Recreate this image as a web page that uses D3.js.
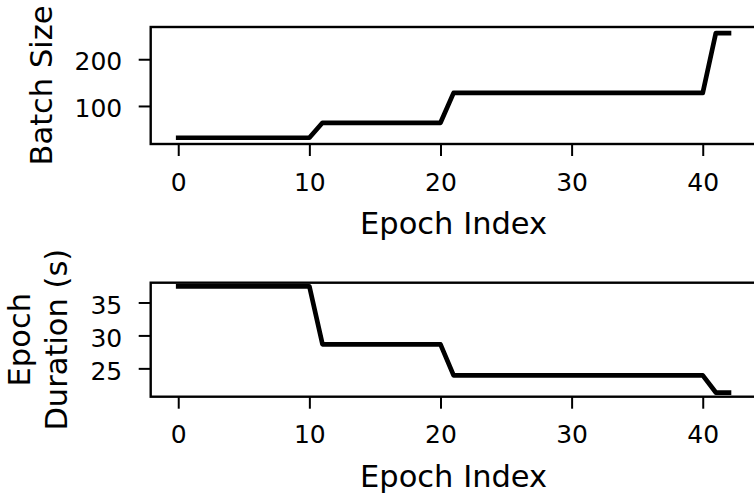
<!DOCTYPE html>
<html>
<head>
<meta charset="utf-8">
<script src="https://cdn.jsdelivr.net/npm/d3@7"></script>
<style>
  body { margin: 0; background: #fff; }
  text { font-family: "DejaVu Sans", sans-serif; fill: #000; }
</style>
</head>
<body>
<div id="chart"></div>
<script>
// data
var epochs = d3.range(0, 43);
var batchSize = [32,32,32,32,32,32,32,32,32,32,32,
                 64,64,64,64,64,64,64,64,64,64,
                 128,128,128,128,128,128,128,128,128,128,
                 128,128,128,128,128,128,128,128,128,128,
                 256,256];
var epochDuration = [37.45,37.45,37.45,37.45,37.45,37.45,37.45,37.45,37.45,37.45,37.45,
                     28.65,28.65,28.65,28.65,28.65,28.65,28.65,28.65,28.65,28.65,
                     23.94,23.94,23.94,23.94,23.94,23.94,23.94,23.94,23.94,23.94,
                     23.94,23.94,23.94,23.94,23.94,23.94,23.94,23.94,23.94,23.94,
                     21.33,21.33];
var xTicks = [0, 10, 20, 30, 40];
var batchTicks = [100, 200];
var durationTicks = [25, 30, 35];
var xLim = [-2.1, 44.1];
var batchLim = [18.6, 269];
var durationLim = [20.7, 38.0];

var W = 754, H = 496;
var svg = d3.select('#chart').append('svg')
    .attr('width', W).attr('height', H);

var x = d3.scaleLinear().domain(xLim).range([150.7, 756.5]);

function panel(top, bottom, values, yLim, yTicks, yLabelLines, id) {
    var y = d3.scaleLinear().domain(yLim).range([bottom, top]);
    var g = svg.append('g');

    g.append('clipPath').attr('id', id)
        .append('rect')
        .attr('x', x.range()[0]).attr('y', top)
        .attr('width', x.range()[1] - x.range()[0]).attr('height', bottom - top);

    var line = d3.line()
        .x(function(d, i) { return x(epochs[i]); })
        .y(function(d) { return y(d); });

    g.append('path')
        .datum(values)
        .attr('clip-path', 'url(#' + id + ')')
        .attr('d', line)
        .attr('fill', 'none')
        .attr('stroke', '#000')
        .attr('stroke-width', 4.7)
        .attr('stroke-linejoin', 'round')
        .attr('stroke-linecap', 'square');

    // x axis
    var xa = g.append('g')
        .attr('transform', 'translate(0,' + bottom + ')')
        .call(d3.axisBottom(x).tickValues(xTicks).tickSize(12).tickPadding(0).tickSizeOuter(0));
    xa.select('.domain').remove();
    xa.selectAll('.tick line').attr('stroke-width', 2);
    xa.selectAll('.tick text')
        .attr('y', 46.5).attr('dy', null)
        .style('font-size', '25px');

    // y axis
    var ya = g.append('g')
        .attr('transform', 'translate(' + x.range()[0] + ',0)')
        .call(d3.axisLeft(y).tickValues(yTicks).tickSize(12).tickPadding(0).tickSizeOuter(0));
    ya.select('.domain').remove();
    ya.selectAll('.tick line').attr('stroke-width', 2);
    ya.selectAll('.tick text')
        .attr('x', -28.5).attr('dy', null).attr('y', 10.7)
        .style('font-size', '25px');

    // frame
    g.append('rect')
        .attr('x', x.range()[0]).attr('y', top)
        .attr('width', x.range()[1] - x.range()[0]).attr('height', bottom - top)
        .attr('fill', 'none').attr('stroke', '#000').attr('stroke-width', 2.4);

    g.append('text')
        .attr('x', (x.range()[0] + x.range()[1]) / 2)
        .attr('y', bottom + 90)
        .attr('text-anchor', 'middle')
        .style('font-size', '30.5px')
        .text('Epoch Index');

    var yl = g.append('text')
        .attr('transform', 'translate(' + yLabelLines.x + ',' + (top + bottom) / 2 + ') rotate(-90)')
        .attr('text-anchor', 'middle')
        .style('font-size', '30.5px');
    yLabelLines.text.forEach(function(t, i) {
        yl.append('tspan')
            .attr('x', 0)
            .attr('y', (i - yLabelLines.text.length + 1) * yLabelLines.gap)
            .text(t);
    });
}

panel(27, 144, batchSize, batchLim, batchTicks, {x: 51.5, gap: 0, text: ['Batch Size']}, 'clipA');
panel(282.7, 396.7, epochDuration, durationLim, durationTicks, {x: 66.5, gap: 37, text: ['Epoch', 'Duration (s)']}, 'clipB');
</script>
</body>
</html>
